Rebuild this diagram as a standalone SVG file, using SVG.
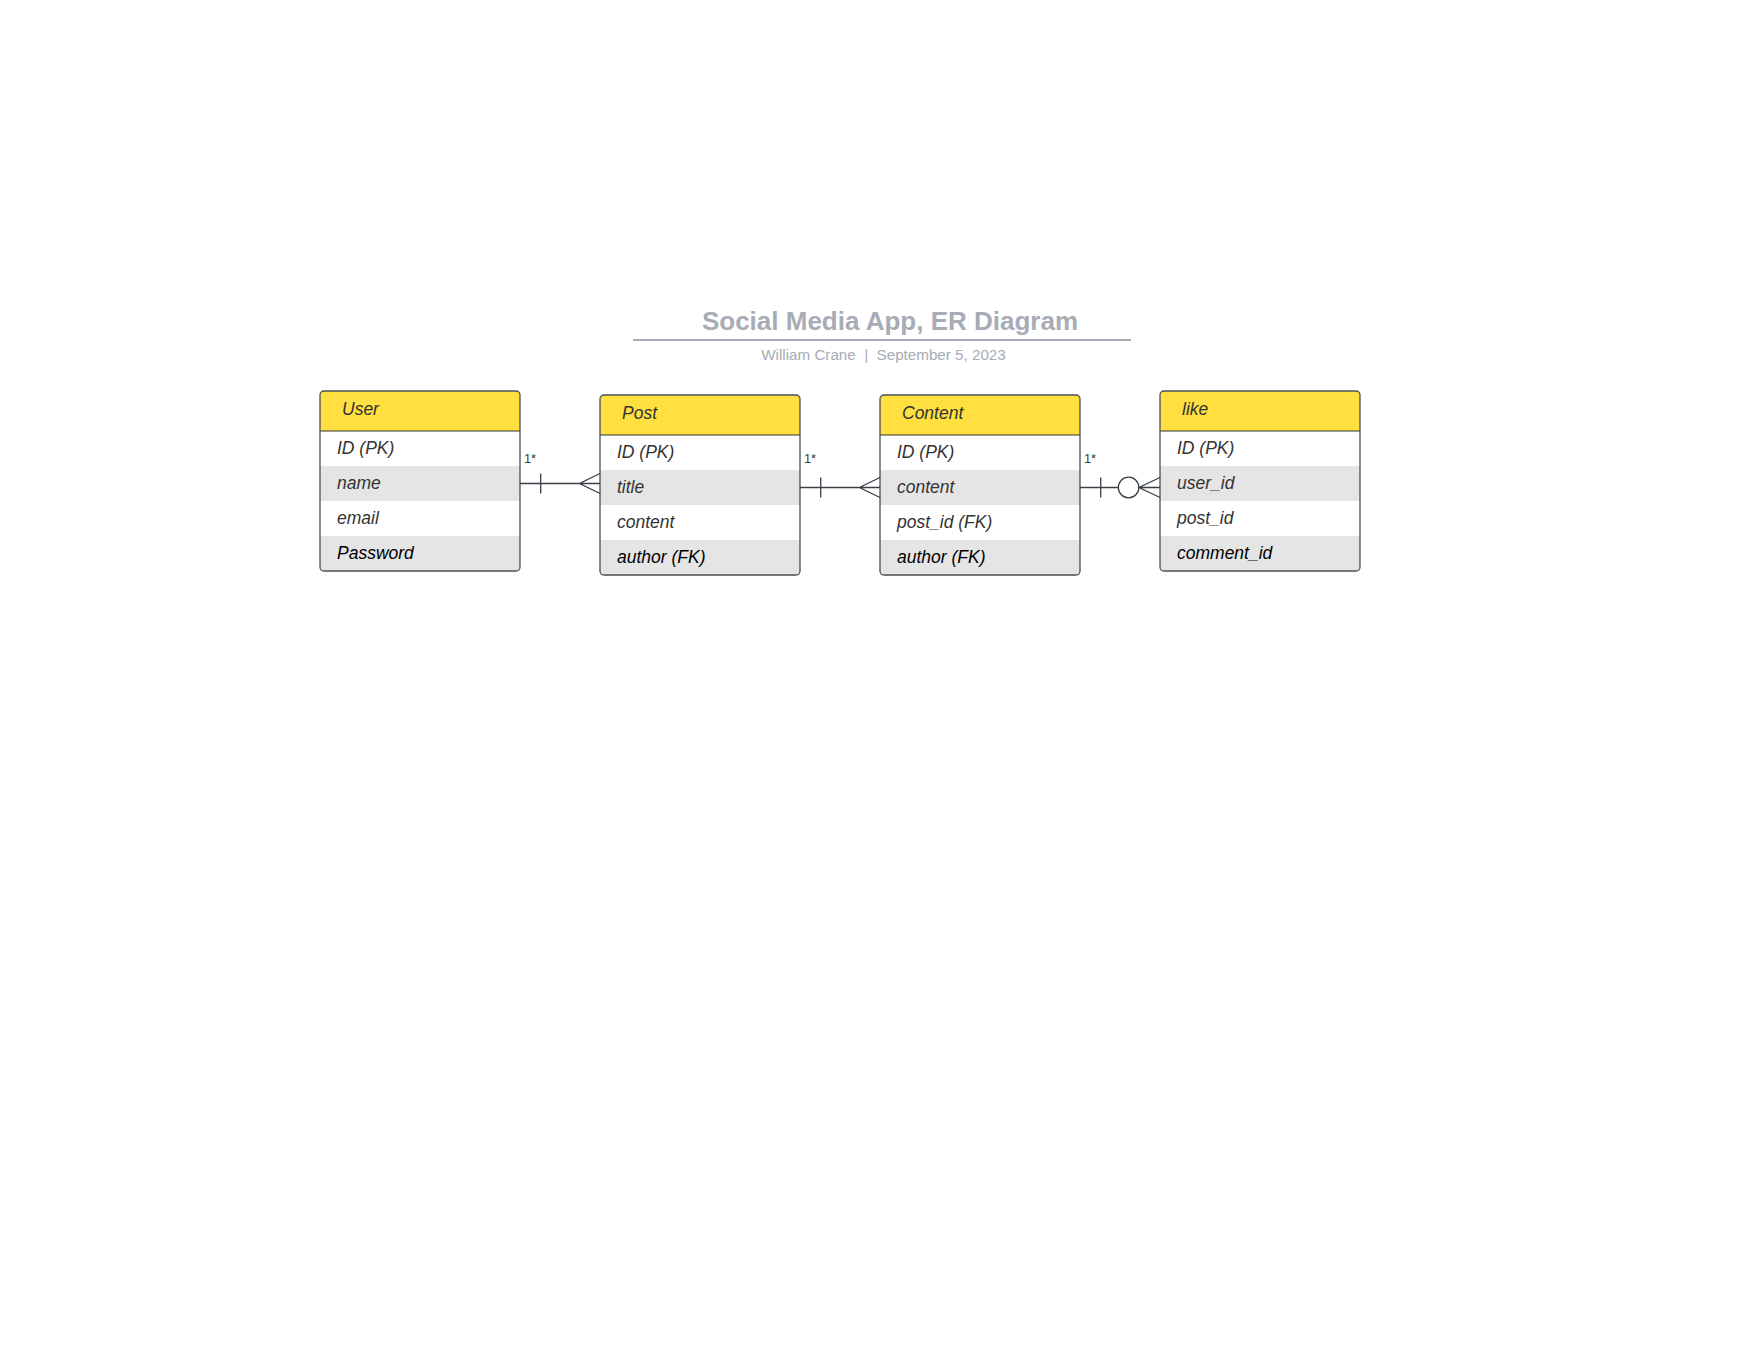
<svg xmlns="http://www.w3.org/2000/svg" width="1760" height="1360" viewBox="0 0 1760 1360">
<style>
.title{font-family:"Liberation Sans",Arial,sans-serif;font-weight:bold;font-size:26px;fill:#a7acb6}
.sub{font-family:"Liberation Sans",Arial,sans-serif;font-size:15.2px;fill:#a7acb6;white-space:pre}
.hdr{fill:#ffe040}
.alt{fill:#e5e5e5}
.frame{fill:none;stroke:#4b4f55;stroke-width:1.3}
.sep{stroke:#333;stroke-width:1.2}
.ht{font-family:"Liberation Sans",Arial,sans-serif;font-style:italic;font-size:17.5px;fill:#333}
.ft{font-family:"Liberation Sans",Arial,sans-serif;font-style:italic;font-size:17.5px;fill:#333}
.fk{fill:#000}
.lbl{font-family:"Liberation Sans",Arial,sans-serif;font-size:12.8px;fill:#3a3a3a}
.cn{fill:none;stroke:#3a4048;stroke-width:1.3}
</style>
<rect width="1760" height="1360" fill="#fff"/>
<g id="title">
<text class="title" x="890" y="330" text-anchor="middle">Social Media App, ER Diagram</text>
<line x1="633" y1="340" x2="1131" y2="340" stroke="#a7acb6" stroke-width="2"/>
<text class="sub" x="883.5" y="360" text-anchor="middle" xml:space="preserve">William Crane  |  September 5, 2023</text>
</g>
<g id="user">
<rect x="320" y="391" width="200" height="180" rx="4" fill="#fff"/>
<path class="hdr" d="M324 391H516A4 4 0 0 1 520 395V431H320V395A4 4 0 0 1 324 391Z"/>
<rect class="alt" x="320" y="466" width="200" height="35"/>
<path class="alt" d="M320 536H520V567A4 4 0 0 1 516 571H324A4 4 0 0 1 320 567Z"/>
<line class="sep" x1="320" y1="431" x2="520" y2="431"/>
<rect class="frame" x="320" y="391" width="200" height="180" rx="4"/>
<text class="ht" x="342" y="415">User</text>
<text class="ft" x="337" y="454">ID (PK)</text>
<text class="ft" x="337" y="489">name</text>
<text class="ft" x="337" y="524">email</text>
<text class="ft fk" x="337" y="559">Password</text>
</g>
<g id="post">
<rect x="600" y="395" width="200" height="180" rx="4" fill="#fff"/>
<path class="hdr" d="M604 395H796A4 4 0 0 1 800 399V435H600V399A4 4 0 0 1 604 395Z"/>
<rect class="alt" x="600" y="470" width="200" height="35"/>
<path class="alt" d="M600 540H800V571A4 4 0 0 1 796 575H604A4 4 0 0 1 600 571Z"/>
<line class="sep" x1="600" y1="435" x2="800" y2="435"/>
<rect class="frame" x="600" y="395" width="200" height="180" rx="4"/>
<text class="ht" x="622" y="419">Post</text>
<text class="ft" x="617" y="458">ID (PK)</text>
<text class="ft" x="617" y="493">title</text>
<text class="ft" x="617" y="528">content</text>
<text class="ft fk" x="617" y="563">author (FK)</text>
</g>
<g id="content">
<rect x="880" y="395" width="200" height="180" rx="4" fill="#fff"/>
<path class="hdr" d="M884 395H1076A4 4 0 0 1 1080 399V435H880V399A4 4 0 0 1 884 395Z"/>
<rect class="alt" x="880" y="470" width="200" height="35"/>
<path class="alt" d="M880 540H1080V571A4 4 0 0 1 1076 575H884A4 4 0 0 1 880 571Z"/>
<line class="sep" x1="880" y1="435" x2="1080" y2="435"/>
<rect class="frame" x="880" y="395" width="200" height="180" rx="4"/>
<text class="ht" x="902" y="419">Content</text>
<text class="ft" x="897" y="458">ID (PK)</text>
<text class="ft" x="897" y="493">content</text>
<text class="ft" x="897" y="528">post_id (FK)</text>
<text class="ft fk" x="897" y="563">author (FK)</text>
</g>
<g id="like">
<rect x="1160" y="391" width="200" height="180" rx="4" fill="#fff"/>
<path class="hdr" d="M1164 391H1356A4 4 0 0 1 1360 395V431H1160V395A4 4 0 0 1 1164 391Z"/>
<rect class="alt" x="1160" y="466" width="200" height="35"/>
<path class="alt" d="M1160 536H1360V567A4 4 0 0 1 1356 571H1164A4 4 0 0 1 1160 567Z"/>
<line class="sep" x1="1160" y1="431" x2="1360" y2="431"/>
<rect class="frame" x="1160" y="391" width="200" height="180" rx="4"/>
<text class="ht" x="1182" y="415">like</text>
<text class="ft" x="1177" y="454">ID (PK)</text>
<text class="ft" x="1177" y="489">user_id</text>
<text class="ft" x="1177" y="524">post_id</text>
<text class="ft fk" x="1177" y="559">comment_id</text>
</g>
<g id="connectors">
<path class="cn" d="M520 483.5H600M540.7 473.5V493.5M600 473.5L579.5 483.5L600 493.5"/>
<text class="lbl" x="524" y="463">1*</text>
<path class="cn" d="M800 487.5H880M820.7 477.5V497.5M880 477.5L859.5 487.5L880 497.5"/>
<text class="lbl" x="804" y="463">1*</text>
<path class="cn" d="M1080 487.5H1118.3M1139 487.5H1160M1100.7 477.5V497.5M1160 477.5L1139 487.5L1160 497.5"/>
<circle class="cn" cx="1128.6" cy="487.5" r="10.3"/>
<text class="lbl" x="1084" y="463">1*</text>
</g>
</svg>
